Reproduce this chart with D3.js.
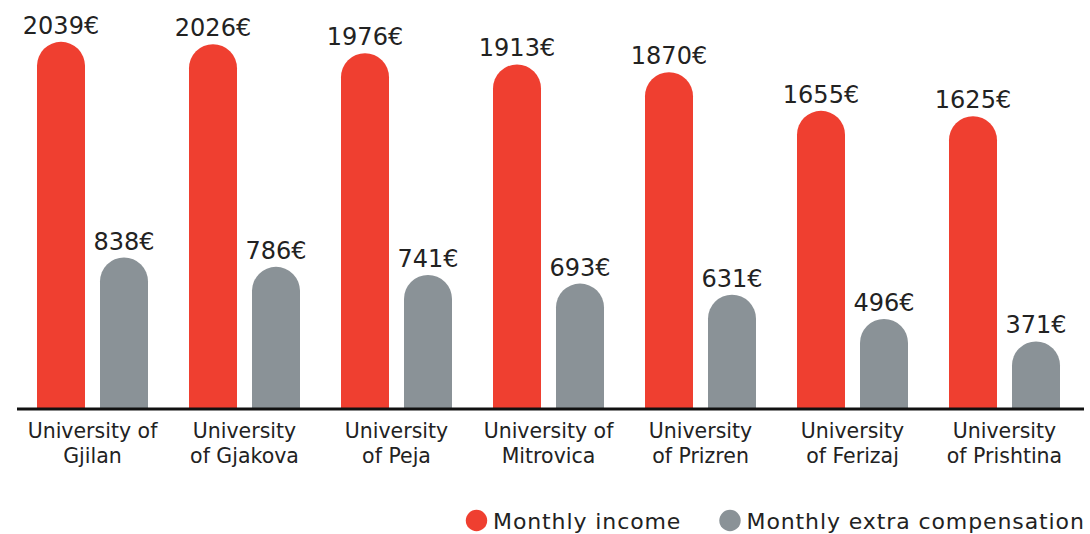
<!DOCTYPE html>
<html>
<head>
<meta charset="utf-8">
<script src="https://cdn.jsdelivr.net/npm/d3@7"></script>
<style>
    body { margin: 0; background: #fff; }
    svg { display: block; font-family: "DejaVu Sans", sans-serif; }
</style>
</head>
<body>
<svg id="chart" width="1090" height="534"></svg>
<script>
// Data //
const universities = ["Gjilan", "Gjakova", "Peja", "Mitrovica", "Prizren", "Ferizaj", "Prishtina"]
const labelLines = [
    ["University of", "Gjilan"],
    ["University", "of Gjakova"],
    ["University", "of Peja"],
    ["University of", "Mitrovica"],
    ["University", "of Prizren"],
    ["University", "of Ferizaj"],
    ["University", "of Prishtina"]
]
const monthlyIncome = [2039, 2026, 1976, 1913, 1870, 1655, 1625]
const extraCompensation = [838, 786, 741, 693, 631, 496, 371]
const seriesNames = ["Monthly income", "Monthly extra compensation"]
const seriesColors = ["#ef3f30", "#8a9297"]

const svg = d3.select("#chart")
const baseY = 408

// Scales //
const x0 = d3.scaleBand()
    .domain(universities)
    .range([16.5, 16.5 + 7 * 152])
    .padding(0)

const x1 = d3.scaleBand()
    .domain(seriesNames)
    .range([-55.5, 55.5])
    .paddingInner(15 / 63)
    .paddingOuter(0)

const y = d3.scaleLinear()
    .domain([0, 2272])
    .range([baseY, 0])

// bar with a round top
function roundBar(x, w, top) {
    const r = w / 2
    const p = d3.path()
    p.moveTo(x, baseY)
    p.lineTo(x, top + r)
    p.arc(x + r, top + r, r, Math.PI, 0)
    p.lineTo(x + w, baseY)
    p.closePath()
    return p.toString()
}

const rows = universities.map((u, i) => ({
    name: u,
    values: [monthlyIncome[i], extraCompensation[i]]
}))

const groups = svg.selectAll("g.group")
    .data(rows)
    .enter()
    .append("g")
    .attr("class", "group")
    .attr("transform", d => `translate(${x0(d.name) + x0.bandwidth() / 2},0)`)

groups.selectAll("path")
    .data(d => d.values.map((v, k) => ({ key: seriesNames[k], v: v, k: k })))
    .enter()
    .append("path")
    .attr("d", d => roundBar(x1(d.key), x1.bandwidth(), y(d.v)))
    .attr("fill", d => seriesColors[d.k])

groups.selectAll("text.value")
    .data(d => d.values.map((v, k) => ({ key: seriesNames[k], v: v })))
    .enter()
    .append("text")
    .attr("class", "value")
    .attr("x", d => x1(d.key) + x1.bandwidth() / 2)
    .attr("y", d => y(d.v) - 8)
    .attr("text-anchor", "middle")
    .attr("font-size", 24)
    .attr("fill", "#222")
    .text(d => d.v + "€")

// Axis line //
svg.append("line")
    .attr("x1", 17).attr("x2", 1084)
    .attr("y1", baseY + 1).attr("y2", baseY + 1)
    .attr("stroke", "#111")
    .attr("stroke-width", 3)

// Category labels //
const cat = svg.selectAll("text.cat")
    .data(universities)
    .enter()
    .append("text")
    .attr("class", "cat")
    .attr("text-anchor", "middle")
    .attr("font-size", 20.5)
    .attr("fill", "#222")

cat.selectAll("tspan")
    .data((d, i) => labelLines[i].map(t => ({ t: t, u: d })))
    .enter()
    .append("tspan")
    .attr("x", d => x0(d.u) + x0.bandwidth() / 2)
    .attr("y", (d, j) => 437.5 + j * 25.6)
    .text(d => d.t)

// Legend //
const legendX = [476.5, 730]
const legend = svg.selectAll("g.legend")
    .data(seriesNames)
    .enter()
    .append("g")
    .attr("class", "legend")
    .attr("transform", (d, i) => `translate(${legendX[i]},520.5)`)

legend.append("circle")
    .attr("r", 10.7)
    .attr("fill", (d, i) => seriesColors[i])

legend.append("text")
    .attr("x", 16.5)
    .attr("y", 8.5)
    .attr("font-size", 22)
    .attr("letter-spacing", 0.9)
    .attr("fill", "#222")
    .text(d => d)
</script>
</body>
</html>
